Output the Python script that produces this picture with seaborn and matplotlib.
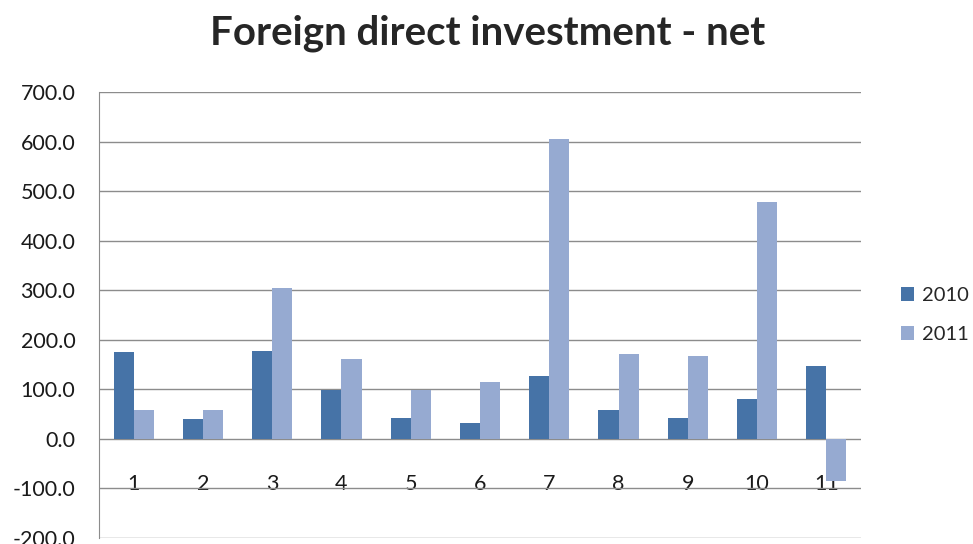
import matplotlib
matplotlib.use("Agg")
import matplotlib.pyplot as plt
import seaborn as sns
import pandas as pd

categories = ["1", "2", "3", "4", "5", "6", "7", "8", "9", "10", "11"]
fdi_2010 = [175, 40, 178, 99, 42, 32, 126, 59, 42, 81, 147]
fdi_2011 = [58, 58, 305, 162, 98, 115, 605, 172, 168, 479, -84]
years = ["2010", "2011"]

df = pd.DataFrame({
    "cat": categories * 2,
    "value": fdi_2010 + fdi_2011,
    "year": [years[0]] * len(categories) + [years[1]] * len(categories),
})

sns.set_style("white")
plt.rcParams["font.family"] = ["Lato", "DejaVu Sans"]

fig = plt.figure(figsize=(9.73, 5.44), dpi=100)
ax = fig.add_axes([99 / 973, 1 - 538 / 544, (861 - 99) / 973, (538 - 92) / 544])

sns.barplot(data=df, x="cat", y="value", hue="year", order=categories,
            palette=["#4673A7", "#96AAD1"], width=0.58, saturation=1,
            linewidth=0, edgecolor="none", ax=ax, zorder=3)

ax.set_ylim(-200, 700)
ax.set_yticks(range(-200, 701, 100))
ax.set_yticklabels([f"{v:.1f}" for v in range(-200, 701, 100)])
ax.yaxis.grid(True, color="#8c8c8c", linewidth=1)
ax.set_axisbelow(True)
for s in ["top", "right", "bottom"]:
    ax.spines[s].set_visible(False)
ax.spines["left"].set_color("#8c8c8c")
ax.tick_params(axis="y", length=0, pad=17, labelsize=15.5, labelcolor="#1a1a1a")
ax.spines["bottom"].set_position(("data", 0))
ax.tick_params(axis="x", length=0, pad=25, labelsize=15.5, labelcolor="#1a1a1a")
ax.set_xlabel("")
ax.set_ylabel("")

ax.legend(loc="center left", bbox_to_anchor=(901 / 973, 1 - 315 / 544),
          bbox_transform=fig.transFigure, frameon=False, fontsize=14.5,
          handlelength=0.65, handleheight=0.65, handletextpad=0.4,
          labelspacing=1.1, borderpad=0, borderaxespad=0)

fig.text(488 / 973, 1 - 33 / 544, "Foreign direct investment - net",
         ha="center", va="center", fontsize=29, fontweight="bold")

fig.savefig("out.png", dpi=100)
